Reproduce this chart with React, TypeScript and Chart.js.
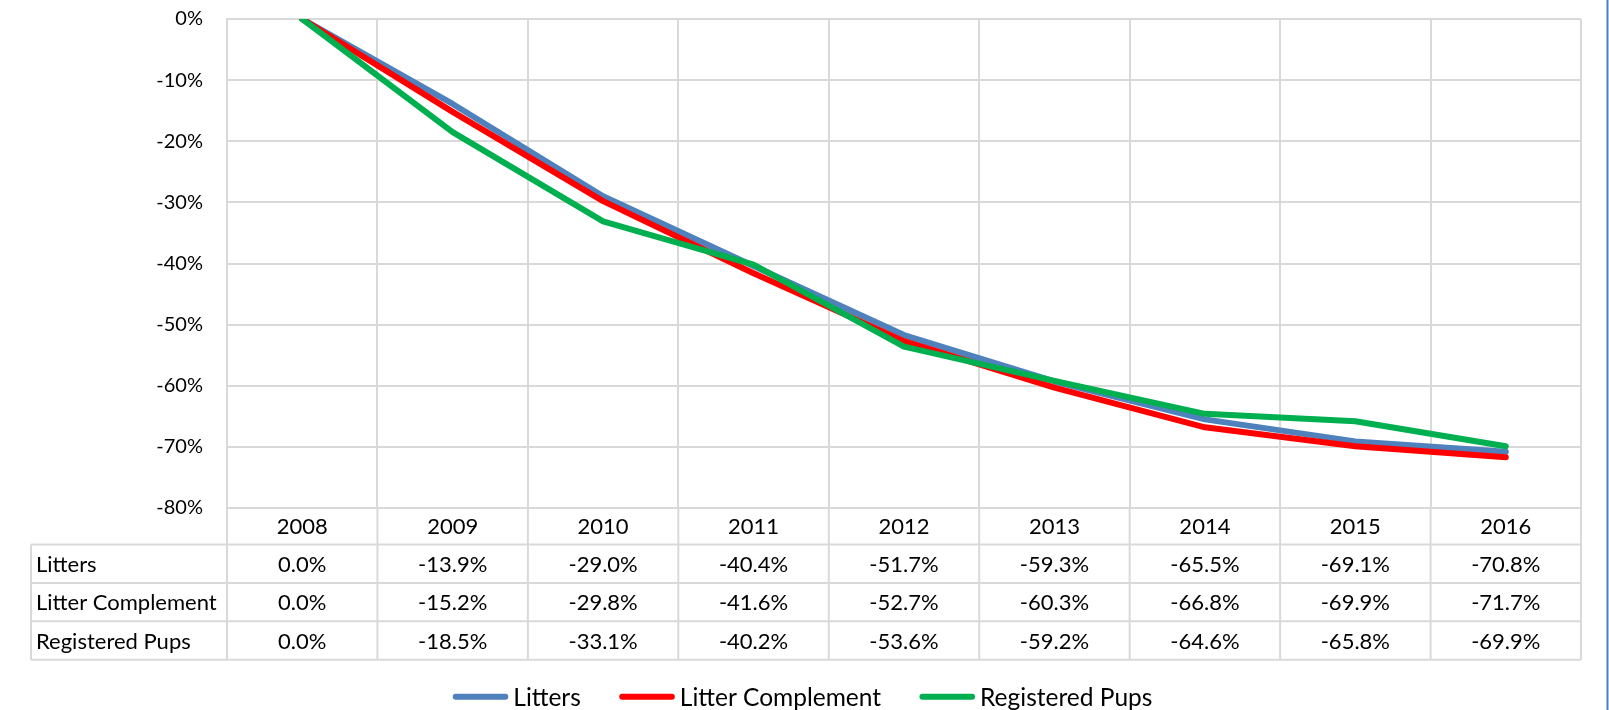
import React, { useEffect, useRef } from "react";
import { Chart, registerables } from "chart.js";

Chart.register(...registerables);

const years = ["2008", "2009", "2010", "2011", "2012", "2013", "2014", "2015", "2016"];
const litters = [0.0, -13.9, -29.0, -40.4, -51.7, -59.3, -65.5, -69.1, -70.8];
const litterComplement = [0.0, -15.2, -29.8, -41.6, -52.7, -60.3, -66.8, -69.9, -71.7];
const registeredPups = [0.0, -18.5, -33.1, -40.2, -53.6, -59.2, -64.6, -65.8, -69.9];
const seriesNames = ["Litters", "Litter Complement", "Registered Pups"];
const seriesColors = ["#4f81bd", "#ff0000", "#00b050"];
const yMin = -80;
const yMax = 0;
const yStep = 10;

const FONT = "Lato, 'Noto Sans', sans-serif";
const GRID = "#d9d9d9";

const tablePlugin = {
  id: "dataTable",
  afterDraw(chart: any) {
    const ctx = chart.ctx as CanvasRenderingContext2D;
    const area = chart.chartArea;
    const xs = chart.scales.x;
    const n = years.length;
    const colW = (area.right - area.left) / n;
    const headerBottom = area.bottom + 36.5;
    const rowH = 38.4;
    const tableLeft = 31;
    const rows = [litters, litterComplement, registeredPups];
    const tableBottom = headerBottom + rowH * rows.length;

    ctx.save();
    ctx.strokeStyle = GRID;
    ctx.lineWidth = 2;
    for (let k = 0; k <= n; k++) {
      const x = area.left + k * colW;
      ctx.beginPath();
      ctx.moveTo(x, area.bottom);
      ctx.lineTo(x, tableBottom);
      ctx.stroke();
    }
    ctx.beginPath();
    ctx.moveTo(tableLeft, headerBottom);
    ctx.lineTo(tableLeft, tableBottom);
    ctx.stroke();
    for (let r = 0; r <= rows.length; r++) {
      const y = headerBottom + r * rowH;
      ctx.beginPath();
      ctx.moveTo(tableLeft, y);
      ctx.lineTo(area.right, y);
      ctx.stroke();
    }

    ctx.fillStyle = "#000";
    ctx.font = `22px ${FONT}`;
    ctx.textBaseline = "middle";
    ctx.textAlign = "center";
    years.forEach((yr, i) => {
      ctx.fillText(yr, xs.getPixelForValue(i), (area.bottom + headerBottom) / 2 + 1);
    });
    rows.forEach((vals, r) => {
      const yc = headerBottom + r * rowH + rowH / 2 + 1;
      ctx.textAlign = "left";
      ctx.fillText(seriesNames[r], 36, yc);
      ctx.textAlign = "center";
      vals.forEach((v, i) => {
        ctx.fillText(`${v.toFixed(1)}%`, xs.getPixelForValue(i), yc);
      });
    });

    // legend
    ctx.font = `24.5px ${FONT}`;
    const ly = 696.7;
    let x = 452.7;
    ctx.lineCap = "round";
    seriesNames.forEach((name, i) => {
      ctx.strokeStyle = seriesColors[i];
      ctx.lineWidth = 6;
      ctx.beginPath();
      ctx.moveTo(x + 3, ly);
      ctx.lineTo(x + 52.6, ly);
      ctx.stroke();
      const tx = x + 60.6;
      ctx.textAlign = "left";
      ctx.fillStyle = "#000";
      ctx.fillText(name, tx, ly + 1);
      x = tx + ctx.measureText(name).width + 38.4;
    });

    ctx.strokeStyle = "#4a7ebb";
    ctx.lineWidth = 2;
    ctx.lineCap = "butt";
    ctx.beginPath();
    ctx.moveTo(1607.5, 0);
    ctx.lineTo(1607.5, chart.height);
    ctx.stroke();
    ctx.restore();
  },
};

export default function App() {
  const ref = useRef<HTMLCanvasElement>(null);
  useEffect(() => {
    document.body.style.margin = "0";
    const datasets = [litters, litterComplement, registeredPups].map((d, i) => ({
      label: seriesNames[i],
      data: d,
      borderColor: seriesColors[i],
      backgroundColor: seriesColors[i],
      borderWidth: 6,
      pointRadius: 0,
      tension: 0,
      fill: false,
      borderCapStyle: "round" as const,
      borderJoinStyle: "round" as const,
      order: 2 - i,
    }));
    const chart = new Chart(ref.current!, {
      type: "line",
      data: { labels: years, datasets },
      options: {
        responsive: false,
        animation: false,
        layout: { padding: { top: 19, left: 0, right: 28, bottom: 0 } },
        plugins: { legend: { display: false }, tooltip: { enabled: false } },
        scales: {
          x: {
            type: "category",
            offset: true,
            grid: { offset: true, color: GRID, lineWidth: 2, drawTicks: false },
            border: { color: GRID, width: 2 },
            ticks: { display: false },
            afterFit: (s: any) => {
              s.height = 202;
            },
          },
          y: {
            min: yMin,
            max: yMax,
            grid: { color: GRID, lineWidth: 2, drawTicks: false },
            border: { color: GRID, width: 2 },
            ticks: {
              stepSize: yStep,
              padding: 24,
              color: "#000",
              font: { family: FONT, size: 20 },
              callback: (v: any) => `${v}%`,
            },
            afterFit: (s: any) => {
              s.width = 227;
              s.paddingTop = 0;
              s.paddingBottom = 0;
            },
          },
        },
      },
      plugins: [tablePlugin],
    });
    return () => chart.destroy();
  }, []);
  return (
    <div style={{ width: 1609, height: 710 }}>
      <canvas ref={ref} width={1609} height={710} />
    </div>
  );
}
